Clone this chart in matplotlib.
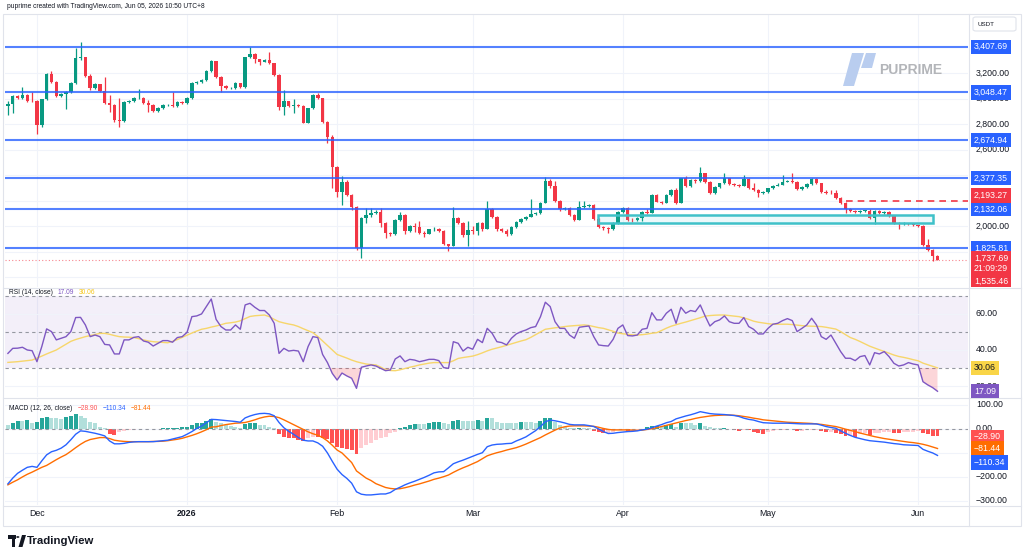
import matplotlib
matplotlib.use("Agg")
import matplotlib.pyplot as plt
import numpy as np
from matplotlib.patches import Rectangle, Polygon, Circle, FancyBboxPatch
from matplotlib.transforms import Bbox, blended_transform_factory

plt.rcParams['font.family'] = ['Liberation Sans', 'DejaVu Sans']

# daily candles, Nov 25 2025 .. Jun 5 2026 (index 0 = Nov 25)
first_open = 2945
closes = [
    2960, 3023, 3008, 3029, 2984, 2978, 2793, 2995, 3191, 3133,
    3021, 3034, 3055, 3125, 3316, 3324, 3180, 3081, 3112, 3060,
    2963, 2950, 2832, 2825, 2976, 2980, 3002, 3008, 2963, 2953,
    2903, 2929, 2948, 2952, 2940, 2971, 2968, 3002, 3120, 3133,
    3146, 3220, 3295, 3172, 3099, 3081, 3085, 3120, 3089, 3324,
    3350, 3308, 3290, 3302, 3277, 3186, 2937, 2981, 2942, 2950,
    2945, 2811, 2924, 3029, 3002, 2819, 2702, 2460, 2270, 2349,
    2244, 2152, 1825, 2061, 2087, 2100, 2113, 2022, 1943, 1938,
    2048, 2087, 1964, 2001, 1990, 1948, 1940, 1975, 1980, 1961,
    1857, 1844, 2061, 2027, 1930, 1969, 1964, 2027, 1980, 2131,
    2074, 1975, 1964, 1938, 1995, 2035, 2056, 2074, 2092, 2100,
    2184, 2354, 2317, 2197, 2131, 2145, 2087, 2048, 2152, 2158,
    2165, 2055, 1990, 1982, 1978, 2027, 2110, 2143, 2050, 2045,
    2060, 2113, 2105, 2244, 2192, 2184, 2244, 2283, 2184, 2375,
    2317, 2362, 2352, 2414, 2349, 2257, 2309, 2335, 2375, 2328,
    2322, 2318, 2370, 2296, 2283, 2257, 2265, 2296, 2318, 2325,
    2349, 2356, 2349, 2291, 2305, 2328, 2370, 2335, 2270, 2262,
    2258, 2220, 2179, 2131, 2121, 2108, 2118, 2121, 2061, 2118,
    2100, 2110, 2079, 2027, 2016, 2020, 2016, 2006, 2003, 1852,
    1812, 1765, 1737.69]
highs = [
    2985, 3030, 3030, 3094, 3035, 3055, 2990, 3000, 3200, 3215,
    3140, 3045, 3062, 3130, 3395, 3447, 3330, 3190, 3120, 3118,
    3172, 3029, 2960, 3002, 2985, 2990, 3010, 3073, 3012, 2990,
    2958, 2935, 2955, 2960, 3055, 2978, 2980, 3010, 3128, 3140,
    3155, 3228, 3300, 3298, 3178, 3105, 3095, 3128, 3125, 3330,
    3408, 3355, 3312, 3310, 3369, 3282, 3190, 3068, 2985, 2995,
    2958, 2950, 2930, 3035, 3047, 3008, 2825, 2712, 2470, 2393,
    2362, 2250, 2158, 2070, 2139, 2139, 2125, 2139, 2030, 1955,
    2055, 2113, 2092, 2010, 2027, 2040, 1961, 1980, 1990, 1985,
    1970, 1862, 2152, 2070, 2035, 2040, 2000, 2035, 2035, 2197,
    2140, 2080, 1985, 1975, 2000, 2040, 2065, 2080, 2210, 2110,
    2190, 2383, 2370, 2354, 2205, 2150, 2150, 2095, 2197, 2197,
    2175, 2170, 2060, 2000, 1995, 2035, 2115, 2150, 2150, 2060,
    2068, 2120, 2135, 2250, 2250, 2200, 2250, 2290, 2300, 2380,
    2390, 2370, 2370, 2461, 2420, 2355, 2315, 2340, 2419, 2380,
    2335, 2330, 2401, 2375, 2340, 2288, 2272, 2300, 2325, 2335,
    2401, 2362, 2419, 2355, 2312, 2335, 2378, 2378, 2340, 2280,
    2285, 2285, 2225, 2185, 2140, 2130, 2128, 2130, 2131, 2125,
    2125, 2120, 2118, 2085, 2035, 2030, 2028, 2022, 2012, 2008,
    1896, 1818, 1773]
lows = [
    2870, 2885, 2995, 3000, 2975, 2970, 2723, 2780, 2990, 3120,
    3010, 3010, 2916, 3045, 3118, 3300, 3170, 3070, 3075, 3050,
    2955, 2898, 2820, 2780, 2815, 2965, 2975, 2995, 2955, 2898,
    2895, 2895, 2920, 2940, 2932, 2932, 2960, 2960, 2995, 3112,
    3125, 3140, 3210, 3165, 3055, 3072, 3075, 3078, 3080, 3085,
    3318, 3277, 3264, 3285, 3270, 3178, 2911, 2872, 2935, 2885,
    2938, 2805, 2805, 2918, 2995, 2812, 2650, 2300, 2231, 2165,
    2235, 2126, 1812, 1747, 2022, 2075, 2092, 1995, 1904, 1925,
    1930, 2040, 1935, 1955, 1956, 1940, 1917, 1935, 1965, 1955,
    1850, 1805, 1840, 2015, 1917, 1840, 1935, 1930, 1960, 1975,
    2065, 1965, 1955, 1925, 1930, 1985, 2025, 2050, 2070, 2085,
    2095, 2180, 2300, 2190, 2120, 2125, 2080, 2040, 2045, 2145,
    2150, 2050, 1985, 1970, 1943, 1970, 2020, 2100, 2040, 2035,
    2038, 2040, 2095, 2100, 2185, 2175, 2180, 2235, 2175, 2180,
    2310, 2310, 2340, 2345, 2340, 2250, 2250, 2300, 2328, 2320,
    2315, 2310, 2315, 2290, 2278, 2231, 2250, 2258, 2290, 2312,
    2320, 2342, 2340, 2285, 2285, 2300, 2322, 2328, 2262, 2250,
    2250, 2212, 2170, 2100, 2110, 2100, 2100, 2110, 2055, 2016,
    2095, 2095, 2070, 2020, 1975, 2005, 2008, 2000, 1995, 1845,
    1805, 1726, 1730]

rsi = [
    38.1, 40.9, 41.0, 41.5, 40.0, 39.6, 33.5, 41.9, 51.7, 50.2,
    45.6, 46.5, 47.4, 50.2, 58.0, 58.1, 53.9, 47.4, 48.3, 47.4,
    43.1, 42.8, 37.8, 37.8, 45.6, 45.6, 47.0, 47.4, 45.0, 44.3,
    42.2, 43.7, 45.2, 45.2, 44.3, 46.9, 47.4, 49.8, 58.5, 58.9,
    60.0, 64.1, 68.3, 57.0, 53.0, 51.1, 51.1, 53.9, 51.5, 65.0,
    65.9, 63.7, 61.9, 61.9, 59.4, 54.8, 38.1, 40.9, 39.4, 39.8,
    39.4, 33.5, 41.9, 47.4, 46.9, 37.5, 33.0, 27.0, 23.3, 27.2,
    25.6, 24.3, 18.7, 30.4, 31.1, 31.7, 31.1, 29.8, 28.5, 28.9,
    35.0, 36.7, 33.5, 34.8, 34.4, 33.5, 34.1, 34.8, 34.8, 34.1,
    30.2, 29.8, 44.6, 43.7, 39.4, 41.5, 40.4, 45.9, 44.1, 52.0,
    49.3, 44.6, 44.1, 42.8, 46.5, 48.9, 50.2, 51.1, 52.4, 53.0,
    58.5, 66.5, 64.1, 55.7, 52.0, 52.0, 48.3, 46.5, 52.6, 53.0,
    53.3, 47.4, 42.8, 42.4, 42.2, 45.9, 52.0, 53.9, 48.0, 47.8,
    48.3, 51.5, 52.0, 60.7, 56.7, 56.7, 60.4, 62.6, 54.8, 63.7,
    60.4, 61.9, 61.3, 65.0, 58.9, 53.3, 55.7, 56.7, 58.9, 55.7,
    54.8, 54.8, 58.0, 53.0, 51.5, 48.9, 48.9, 52.0, 54.3, 54.8,
    56.3, 57.4, 56.3, 50.2, 52.0, 53.9, 57.6, 53.9, 47.4, 45.9,
    48.3, 43.7, 39.1, 35.4, 35.4, 34.1, 36.3, 36.9, 31.7, 38.5,
    37.8, 39.1, 36.3, 32.6, 31.1, 31.7, 33.0, 32.2, 31.7, 22.4,
    20.6, 19.1, 17.09]
rsi_ma = [
    33.1, 33.3, 33.5, 33.8, 34.1, 34.4, 35.5, 36.6, 37.8, 38.9,
    40.0, 41.6, 43.2, 44.8, 45.8, 46.6, 47.4, 48.0, 48.6, 49.2,
    49.2, 48.7, 48.0, 47.4, 47.2, 47.1, 46.9, 46.3, 45.6, 45.0,
    44.6, 44.4, 44.2, 44.0, 44.8, 45.8, 47.0, 48.2, 49.4, 50.5,
    51.5, 52.0, 52.7, 53.3, 54.0, 54.8, 55.1, 55.5, 56.2, 57.4,
    58.6, 59.0, 59.2, 59.4, 58.5, 57.0, 55.7, 55.0, 54.4, 53.9,
    53.0, 51.8, 50.7, 49.6, 47.5, 45.0, 42.5, 40.0, 37.5, 36.5,
    35.5, 34.4, 33.5, 32.8, 32.2, 31.9, 31.7, 30.5, 29.0, 28.6,
    28.5, 29.0, 29.7, 30.4, 31.0, 31.7, 32.2, 32.7, 33.0, 33.0,
    33.0, 33.0, 34.0, 35.3, 35.8, 36.2, 36.6, 37.4, 38.4, 39.5,
    40.4, 41.1, 41.8, 42.6, 43.4, 44.2, 45.0, 45.7, 47.0, 48.5,
    50.0, 51.5, 51.9, 52.3, 52.6, 53.0, 53.3, 53.5, 53.7, 53.9,
    53.6, 53.0, 52.4, 52.0, 51.2, 50.4, 49.4, 49.0, 48.7, 48.4,
    48.3, 48.5, 48.8, 49.3, 49.6, 50.8, 52.1, 53.2, 54.0, 54.8,
    55.5, 56.3, 57.1, 57.9, 58.8, 59.1, 59.3, 59.4, 59.4, 59.1,
    58.8, 58.5, 57.8, 57.0, 56.0, 55.4, 55.0, 54.6, 54.3, 54.3,
    54.3, 54.3, 54.1, 53.8, 53.5, 53.3, 53.2, 53.1, 53.0, 52.6,
    52.1, 51.6, 50.2, 48.5, 46.9, 45.9, 44.7, 43.4, 42.1, 41.1,
    40.1, 39.2, 38.2, 37.2, 36.4, 35.9, 35.3, 34.6, 34.0, 32.7,
    31.8, 30.9, 30.06]

macd = [
    -229, -205, -185, -172, -160, -156, -160, -133, -108, -95,
    -89, -80, -66, -45, -22, -8, -10, -14, -18, -23,
    -29, -50, -62, -62, -60, -56, -54, -53, -53, -53,
    -53, -51, -49, -47, -42, -37, -32, -22, -11, 2,
    12, 26, 40, 39, 37, 35, 33, 31, 28, 46,
    54, 60, 64, 65, 63, 55, 27, 5, -10, -22,
    -36, -47, -50, -50, -58, -72, -100, -135, -168, -190,
    -206, -226, -262, -272, -275, -275, -273, -271, -271, -265,
    -252, -243, -233, -225, -218, -210, -202, -193, -183, -179,
    -178, -162, -145, -137, -130, -122, -114, -106, -99, -74,
    -67, -64, -63, -61, -60, -50, -42, -33, -20, -7,
    10, 30, 37, 34, 30, 25, 19, 17, 17, 17,
    14, 10, 0, -11, -19, -18, -15, -13, -11, -10,
    -8, -4, -1, 5, 12, 18, 26, 31, 42, 48,
    54, 59, 65, 72, 68, 64, 62, 61, 60, 58,
    56, 52, 45, 40, 37, 31, 26, 25, 24, 24,
    24, 24, 23, 22, 21, 21, 21, 21, 16, 10,
    6, 3, -8, -18, -27, -35, -40, -45, -49, -51,
    -53, -55, -58, -61, -63, -66, -67, -68, -69, -85,
    -93, -100, -110.34]
signal = [
    -233, -222, -212, -200, -189, -180, -170, -160, -152, -140,
    -128, -117, -107, -93, -78, -64, -52, -44, -40, -36,
    -36, -40, -47, -50, -52, -53, -53, -53, -53, -53,
    -52, -52, -51, -49, -46, -43, -39, -33, -27, -20,
    -12, -3, 8, 9, 14, 18, 21, 24, 25, 27,
    32, 38, 45, 50, 53, 52, 47, 38, 28, 18,
    8, -2, -12, -20, -26, -36, -50, -68, -88, -100,
    -120, -140, -175, -190, -205, -215, -228, -236, -244, -248,
    -250, -249, -245, -240, -234, -229, -223, -217, -210, -205,
    -199, -192, -181, -171, -162, -154, -145, -136, -124, -112,
    -105, -99, -94, -88, -83, -78, -71, -63, -54, -45,
    -36, -25, -15, -5, 4, 9, 12, 13, 13, 13,
    12, 11, 7, 2, -2, -4, -4, -4, -4, -5,
    -6, -5, -2, 1, 5, 10, 15, 20, 25, 30,
    35, 39, 44, 48, 51, 54, 56, 57, 58, 58,
    57, 55, 52, 49, 45, 42, 38, 36, 34, 32,
    30, 28, 27, 26, 25, 24, 23, 21, 19, 16,
    13, 10, 5, -1, -6, -11, -17, -22, -27, -32,
    -36, -40, -43, -46, -49, -52, -55, -57, -60, -64,
    -69, -75, -81.44]
hist = [
    17, 24, 33, 33, 37, 24, 30, 44, 51, 45,
    44, 43, 51, 54, 61, 54, 44, 30, 24, 10,
    3, -21, -25, -11, -7, -4, -3, -2, -2, -1,
    -1, 1, 3, 4, 5, 6, 7, 10, 17, 24,
    26, 33, 40, 30, 24, 17, 12, 7, 3, 21,
    24, 25, 17, 15, 10, 3, -21, -32, -36, -39,
    -46, -49, -38, -32, -34, -38, -42, -60, -75, -80,
    -85, -88, -105, -80, -67, -60, -46, -39, -32, -18,
    -11, 5, 10, 17, 19, 19, 19, 24, 28, 30,
    24, 21, 35, 37, 35, 35, 33, 37, 33, 44,
    44, 30, 26, 24, 24, 24, 28, 28, 28, 24,
    35, 44, 47, 30, 17, 10, 5, 3, 4, 4,
    3, -7, -11, -18, -18, -11, -4, -4, -7, -7,
    -4, -1, 8, 12, 14, 14, 17, 21, 10, 24,
    24, 24, 17, 24, 12, 7, 5, 3, 4, 1,
    -4, -7, -3, -4, -11, -18, -21, -11, -7, -4,
    -4, -4, -2, -7, -7, -4, -4, -4, -7, -11,
    -11, -15, -21, -28, -28, -32, -21, -18, -25, -18,
    -15, -11, -11, -15, -18, -11, -11, -11, -8, -18,
    -22, -28, -28.90]

levels = [3407.69, 3048.47, 2674.94, 2377.35, 2132.06, 1825.81]
alert_price = 2193.27
alert_from_day = 173
zone_low, zone_high = 2022, 2085
zone_days = (121.9, 191.1)
last_price = 1737.69
countdown = "21:09:29"
low_mark = 1535.46
month_days = [6, 37, 68, 96, 127, 157, 188]
month_names = ["Dec", "2026", "Feb", "Mar", "Apr", "May", "Jun"]
price_grid = [3200, 3000, 2800, 2600, 2400, 2200, 2000, 1800, 1600]
price_labels = [3200, 3000, 2800, 2600, 2000]   # the others sit under tags
rsi_grid = [60, 40, 20]
rsi_labels = [60, 40, 20]
macd_grid = [100, 0, -100, -200, -300]
macd_labels = [100, 0, -200, -300]

GREEN, RED, BLUE = '#089981', '#f23645', '#2962ff'
TXT = '#131722'
GRID = '#f0f3fa'
SEP = '#e0e3eb'

W, H = 1024, 558
fig = plt.figure(figsize=(W / 100, H / 100), dpi=100)
fig.patch.set_facecolor('white')
L, R = 5, 968


def pane(top, bottom):
    a = fig.add_axes([L / W, 1 - bottom / H, (R - L) / W, (bottom - top) / H])
    a.set_xlim(-0.6, 198.3)
    a.axis('off')
    for d in month_days:
        a.axvline(d, color=GRID, lw=0.8, zorder=0)
    return a


ax = pane(15, 287)
ax.set_ylim(1522, 3656)
ax_rsi = pane(288, 397)
ax_rsi.set_ylim(13.9, 74.4)
ax_macd = pane(398, 505)
ax_macd.set_ylim(-317, 129)

x = np.arange(len(closes))
c = np.array(closes, dtype=float)
o = np.array([first_open] + closes[:-1], dtype=float)
cols = np.where(c >= o, GREEN, RED)

# ---- price pane ----
for v in price_grid:
    ax.axhline(v, color=GRID, lw=0.8, zorder=0)
ax.vlines(x, lows, highs, colors=cols, lw=0.9, zorder=2)
ax.bar(x, np.maximum(np.abs(c - o), 5), bottom=np.minimum(o, c), width=0.72,
       color=cols, lw=0, zorder=3)
for lv in levels:
    ax.axhline(lv, color=BLUE, lw=1.5, alpha=0.8, zorder=4)
ax.hlines(alert_price, alert_from_day, 198.3, colors=RED, lw=1.2,
          linestyles=(0, (4, 3)), zorder=4)
ax.add_patch(Rectangle((zone_days[0], zone_low), zone_days[1] - zone_days[0],
                       zone_high - zone_low, fc=(0.3, 0.8, 0.85, 0.10),
                       ec='#3fc1c9', lw=1.8, zorder=5))
ax.axhline(last_price, color=RED, lw=0.8, ls=(0, (1, 2)), alpha=0.6, zorder=1)

# ---- RSI pane ----
ax_rsi.axhspan(30, 70, color='#7e57c2', alpha=0.09, lw=0, zorder=0)
for v in rsi_grid:
    ax_rsi.axhline(v, color=GRID, lw=0.8, zorder=0)
for lvl in (70, 50, 30):
    ax_rsi.axhline(lvl, color='#9598a1', lw=0.8, ls=(0, (3, 3)), zorder=1)
r = np.array(rsi)
ax_rsi.fill_between(x, r, 30, where=r < 30, interpolate=True,
                    color='#f23645', alpha=0.2, lw=0, zorder=1)
ax_rsi.plot(x, rsi_ma, color='#f7d66b', lw=1, zorder=2)
ax_rsi.plot(x, rsi, color='#7e57c2', lw=1, zorder=3)

# ---- MACD pane ----
for v in macd_grid:
    ax_macd.axhline(v, color=GRID, lw=0.8, zorder=0)
hcol = []
prev = hist[0]
for h in hist:
    if h >= 0:
        hcol.append('#26a69a' if h > prev else '#b2dfdb')
    else:
        hcol.append('#ff5252' if h < prev else '#ffcdd2')
    prev = h
ax_macd.bar(x, hist, width=0.82, color=hcol, lw=0, zorder=1)
ax_macd.axhline(0, color='#9598a1', lw=0.8, ls=(0, (3, 3)), zorder=1)
ax_macd.plot(x, macd, color=BLUE, lw=1, zorder=3)
ax_macd.plot(x, signal, color='#ff6d00', lw=1, zorder=2)

# ---- frame & separators ----
fig.add_artist(Rectangle((3 / W, 1 - 526 / H), 1018 / W, 512 / H, transform=fig.transFigure,
                         fc='none', ec=SEP, lw=0.8))
for yy in (287.5, 397.5, 505.5):
    fig.add_artist(plt.Line2D([3 / W, 1021 / W], [1 - yy / H] * 2, color=SEP, lw=0.8))
fig.add_artist(plt.Line2D([968.5 / W] * 2, [1 - 14 / H, 1 - 526 / H], color=SEP, lw=0.8))


def fmt(v):
    return f"{v:,.2f}".replace('-', '\u2212')


def ypix(a, v):
    return a.transData.transform((0, v))[1]


def ticks(a, values):
    for v in values:
        fig.text(976 / W, ypix(a, v) / H, fmt(v), ha='left', va='center',
                 fontsize=6.3, color=TXT, zorder=5)


ticks(ax, price_labels)
ticks(ax_rsi, rsi_labels)
ticks(ax_macd, macd_labels)

# price tags on the right scale: (pane, value, text, face, text colour, pixel shift)
tags = [(ax, lv, fmt(lv), BLUE, 'white', 0) for lv in levels]
tags += [
    (ax, alert_price, fmt(alert_price), RED, 'white', 6),
    (ax, last_price, fmt(last_price) + "\n" + countdown, RED, 'white', -4),
    (ax, low_mark, fmt(low_mark), RED, 'white', 4),
    (ax_rsi, rsi_ma[-1], fmt(rsi_ma[-1]), '#f9d548', TXT, 0),
    (ax_rsi, rsi[-1], fmt(rsi[-1]), '#7e57c2', 'white', 0),
    (ax_macd, hist[-1], fmt(hist[-1]), '#ff5252', 'white', -1),
    (ax_macd, signal[-1], fmt(signal[-1]), '#ff6d00', 'white', 0),
    (ax_macd, macd[-1], fmt(macd[-1]), BLUE, 'white', -7),
]
low_clip = Bbox.from_extents(960, H - 287, 1024, H - 260)
for a, v, txt, fc, tc, dy in tags:
    t = fig.text(974 / W, (ypix(a, v) + dy) / H, txt, ha='left', va='center',
                 fontsize=6.3, color=tc, zorder=10, linespacing=1.2,
                 bbox=dict(boxstyle='square,pad=0.3', fc=fc, ec='none'))
    if v == low_mark:
        t.set_clip_box(low_clip)
        t.set_clip_on(True)


# ---- pane titles ----
renderer = fig.canvas.get_renderer()


def title(parts, y):
    xp = 9
    for txt, col in parts:
        t = fig.text(xp / W, 1 - y / H, txt, ha='left', va='center', fontsize=4.8, color=col)
        xp += t.get_window_extent(renderer).width + 5


title([("RSI (14, close)", TXT), (fmt(rsi[-1]), '#7e57c2'), (fmt(rsi_ma[-1]), '#f5c518')], 292.5)
title([("MACD (12, 26, close)", TXT), (fmt(hist[-1]), '#ff5252'),
       (fmt(macd[-1]), BLUE), (fmt(signal[-1]), '#ff6d00')], 409)

# ---- time axis ----
tr = blended_transform_factory(ax_macd.transData, fig.transFigure)
for d, name in zip(month_days, month_names):
    ax_macd.text(d, 1 - 514 / H, name, transform=tr, ha='center', va='center',
                 fontsize=6.3, color=TXT, fontweight='bold' if name == '2026' else 'normal',
                 clip_on=False)

# ---- header, currency box, watermark, logo ----
fig.text(7 / W, 1 - 7 / H, "puprime created with TradingView.com, Jun 05, 2026 10:50 UTC+8",
         ha='left', va='center', fontsize=4.8, color=TXT)
fig.add_artist(FancyBboxPatch((973 / W, 1 - 31 / H), 43 / W, 14 / H, transform=fig.transFigure,
                              boxstyle='round,pad=0,rounding_size=0.003', fc='white', ec=SEP, lw=0.8))
fig.text(978 / W, 1 - 24 / H, "USDT", ha='left', va='center', fontsize=4.5, color=TXT)


def poly(pts, color):
    fig.add_artist(Polygon([(px / W, 1 - py / H) for px, py in pts], closed=True,
                           transform=fig.transFigure, fc=color, ec='none'))


poly([(843, 86), (854, 86), (864, 53), (852, 53)], '#b9cdef')
poly([(866, 53), (876, 53), (872, 68), (861, 68)], '#b9cdef')
fig.text(879 / W, 1 - 70 / H, "PUPRIME", ha='left', va='center', fontsize=10,
         fontweight='bold', color='#b3b5b9')

poly([(8, 535), (16, 535), (16, 538.5), (8, 538.5)], TXT)
poly([(11.5, 535), (15, 535), (15, 547), (11.5, 547)], TXT)
fig.add_artist(Circle((17.8 / W, 1 - 537 / H), 1.6 / W, transform=fig.transFigure, fc=TXT, ec='none'))
poly([(18.5, 547), (22.5, 547), (26, 535), (22, 535)], TXT)
fig.text(27 / W, 1 - 541 / H, "TradingView", ha='left', va='center', fontsize=8.2,
         fontweight='bold', color=TXT)

fig.savefig("out.png", dpi=100, facecolor='white')
